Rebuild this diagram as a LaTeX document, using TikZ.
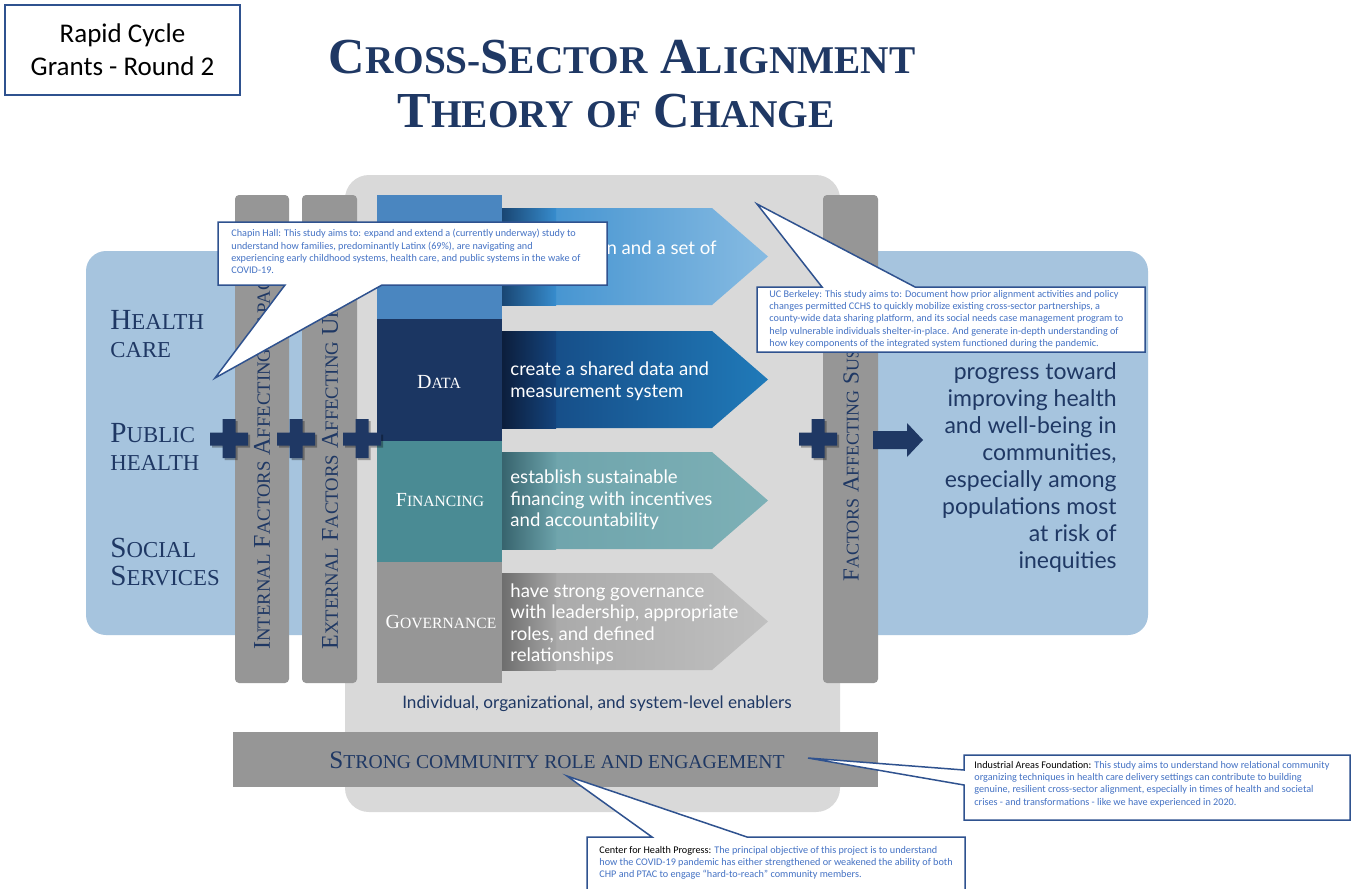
\documentclass[tikz,border=0pt]{standalone}
\usepackage{fontspec}
\setmainfont{Liberation Serif}
\newfontfamily\avenir{Lato}
\newfontfamily\calibri{Carlito}
\usepackage{graphicx}
\usetikzlibrary{positioning}
\definecolor{navy}{RGB}{31,56,100}
\definecolor{skyblue}{RGB}{166,196,222}
\definecolor{bggray}{RGB}{217,217,217}
\definecolor{bargray}{RGB}{150,150,150}
\definecolor{purposeblue}{RGB}{74,134,192}
\definecolor{datablue}{RGB}{27,54,98}
\definecolor{finteal}{RGB}{74,139,148}
\definecolor{callblue}{RGB}{47,82,143}
\definecolor{calltext}{RGB}{68,114,196}
\definecolor{arra}{RGB}{55,140,205}
\definecolor{arrb}{RGB}{135,187,226}
\definecolor{arrd}{RGB}{25,70,115}
\definecolor{dara}{RGB}{20,68,125}
\definecolor{darb}{RGB}{32,122,185}
\definecolor{dard}{RGB}{12,30,60}
\definecolor{fina}{RGB}{108,162,170}
\definecolor{finb}{RGB}{125,176,182}
\definecolor{find}{RGB}{55,100,110}
\definecolor{gova}{RGB}{165,165,165}
\definecolor{govb}{RGB}{192,192,192}
\definecolor{govd}{RGB}{110,110,110}
\newcommand{\smc}[2]{#1\scalebox{0.78}{#2}}

\begin{document}
\begin{tikzpicture}[x=0.5pt,y=-0.5pt,
  bar/.style={fill=bargray,rounded corners=2pt},
  barlabel/.style={rotate=90,anchor=west,inner sep=0pt,text=navy,font=\fontsize{12}{12}\selectfont},
  sector/.style={anchor=north west,inner sep=0pt,align=left,text=navy,font=\fontsize{14.6}{14}\selectfont},
  boxlabel/.style={text=white,font=\fontsize{10}{11}\selectfont},
  arrowtext/.style={anchor=west,inner sep=0pt,align=left,text=white,font=\avenir\fontsize{9.3}{10.75}\selectfont},
  callout/.style={fill=white,draw=callblue,line width=0.75pt,line join=miter},
  calltext/.style={anchor=north west,inner sep=0pt,align=left,text=calltext,font=\calibri\fontsize{5.1}{6.1}\selectfont},
  plus/.style={fill=navy}
]
\useasboundingbox (0,0) rectangle (1356,889);
\fill[white] (0,0) rectangle (1356,889);

% the tag and the title
\node[draw=callblue,line width=0.6pt,fill=white,minimum width=117.5pt,minimum height=45pt,
  align=center,font=\calibri\fontsize{13.5}{16.5}\selectfont] (tag) at (122.5,50) {Rapid Cycle\\Grants - Round 2};
\node[text=navy,font=\bfseries\fontsize{25.2}{28}\selectfont] (title1) at (622,57) {\smc{C}{ROSS-}\smc{S}{ECTOR} \smc{A}{LIGNMENT}};
\node[text=navy,font=\bfseries\fontsize{25.2}{28}\selectfont] (title2) at (616,111) {\smc{T}{HEORY} \scalebox{0.78}{OF} \smc{C}{HANGE}};

% the backgrounds
\fill[skyblue,rounded corners=10pt] (86,251) rectangle (1148,635);
\fill[bggray,rounded corners=12pt] (345,175) rectangle (840,812);

% the factor bars and the community band
\fill[bar] (235,195) rectangle (289,683);
\fill[bar] (302,195) rectangle (357,683);
\fill[bar] (823,195) rectangle (878,683);
\fill[bargray] (233,732) rectangle (878,787);

% the four components
\fill[purposeblue] (377,195) rectangle (502,319);
\fill[datablue] (377,319) rectangle (502,441);
\fill[finteal] (377,441) rectangle (502,562);
\fill[bargray] (377,562) rectangle (502,683);

% the arrows
\foreach \yt/\lc/\rc/\dc in {208/arra/arrb/arrd, 331/dara/darb/dard, 452/fina/finb/find, 573/gova/govb/govd} {
  \shade[left color=\lc,right color=\rc] (502,\yt) -- (712,\yt) -- (768,\yt+48.5) -- (712,\yt+97) -- (502,\yt+97) -- cycle;
  \shade[left color=\dc,right color=\lc] (502,\yt) rectangle (556,\yt+97);
}

% the labels
\node[boxlabel] (data) at (439,382) {\smc{D}{ATA}};
\node[boxlabel] (financing) at (440,500) {\smc{F}{INANCING}};
\node[boxlabel] (governance) at (441,622) {\smc{G}{OVERNANCE}};

\node[arrowtext] (purposetxt) at (510,258) {shared vision and a set of\\outcomes};
\node[arrowtext] (datatxt) at (510,381) {create a shared data and\\measurement system};
\node[arrowtext] (fintxt) at (510,500) {establish sustainable\\financing with incentives\\and accountability};
\node[arrowtext] (govtxt) at (510,624) {have strong governance\\with leadership, appropriate\\roles, and defined\\relationships};

\node[sector] (healthcare) at (110,310) {\smc{H}{EALTH}\\\scalebox{0.78}{CARE}};
\node[sector] (publichealth) at (110,423) {\smc{P}{UBLIC}\\\scalebox{0.78}{HEALTH}};
\node[sector] (socialserv) at (110,538) {\smc{S}{OCIAL}\\\smc{S}{ERVICES}};

\node[barlabel] (internal) at (262,650) {\smc{I}{NTERNAL} \smc{F}{ACTORS} \smc{A}{FFECTING} \smc{C}{APACITY}};
\node[barlabel] (external) at (330,650) {\smc{E}{XTERNAL} \smc{F}{ACTORS} \smc{A}{FFECTING} \smc{U}{RGENCY}};
\node[barlabel,font=\fontsize{11.5}{12}\selectfont] (sustain) at (851,582) {\smc{F}{ACTORS} \smc{A}{FFECTING} \smc{S}{U}\scalebox{0.55}[0.78]{STAINABILITY}};

\node[anchor=north east,inner sep=0pt,align=right,text=navy,font=\avenir\fontsize{11.5}{13.5}\selectfont] (goal) at (1117,362)
  {progress toward\\improving health\\and well-being in\\communities,\\especially among\\populations most\\at risk of\\inequities};

\node[text=navy,font=\avenir\fontsize{8.6}{9}\selectfont] (enablers) at (597,704) {Individual, organizational, and system-level enablers};
\node[text=navy,font=\fontsize{12.6}{13}\selectfont] (community) at (557,760) {\smc{S}{TRONG COMMUNITY ROLE AND ENGAGEMENT}};

% the plus signs and the result arrow
\foreach \cx in {229,296,362,818} {
  \fill[black,opacity=0.3] (\cx-17,434.5) rectangle (\cx+21,447.5) (\cx-4.5,421) rectangle (\cx+8.5,460);
  \fill[plus] (\cx-19,432.5) rectangle (\cx+19,445.5) (\cx-6.5,419) rectangle (\cx+6.5,458);
}
\fill[navy] (873,431) -- (907,431) -- (907,423) -- (923,440) -- (907,457) -- (907,449) -- (873,449) -- cycle;

% the callouts
\draw[callout] (218,222) -- (607,222) -- (607,285) -- (382,285) -- (215,378) -- (285,285) -- (218,285) -- cycle;
\node[calltext] (chapin) at (231,229) {Chapin Hall: This study aims to: expand and extend a (currently underway) study to\\
understand how families, predominantly Latinx (69\%), are navigating and\\
experiencing early childhood systems, health care, and public systems in the wake of\\
COVID-19.};

\draw[callout] (757,287) -- (822,287) -- (757,204) -- (915,287) -- (1145,287) -- (1145,352) -- (757,352) -- cycle;
\node[calltext] (berkeley) at (769,290) {UC Berkeley: This study aims to: Document how prior alignment activities and policy\\
changes permitted CCHS to quickly mobilize existing cross-sector partnerships, a\\
county-wide data sharing platform, and its social needs case management program to\\
help vulnerable individuals shelter-in-place. And generate in-depth understanding of\\
how key components of the integrated system functioned during the pandemic.};

\draw[callout] (964,755) -- (1350,755) -- (1350,820) -- (964,820) -- (964,785) -- (808,758) -- (964,770) -- cycle;
\node[calltext] (iaf) at (974,761) {{\color{black}Industrial Areas Foundation:} This study aims to understand how relational community\\
organizing techniques in health care delivery settings can contribute to building\\
genuine, resilient cross-sector alignment, especially in times of health and societal\\
crises - and transformations - like we have experienced in 2020.};

\draw[callout] (587,837) -- (652,837) -- (567,776) -- (747,837) -- (965,837) -- (965,895) -- (587,895) -- cycle;
\node[calltext] (chp) at (599,846) {{\color{black}Center for Health Progress:} The principal objective of this project is to understand\\
how the COVID-19 pandemic has either strengthened or weakened the ability of both\\
CHP and PTAC to engage “hard-to-reach” community members.};
\end{tikzpicture}
\end{document}
